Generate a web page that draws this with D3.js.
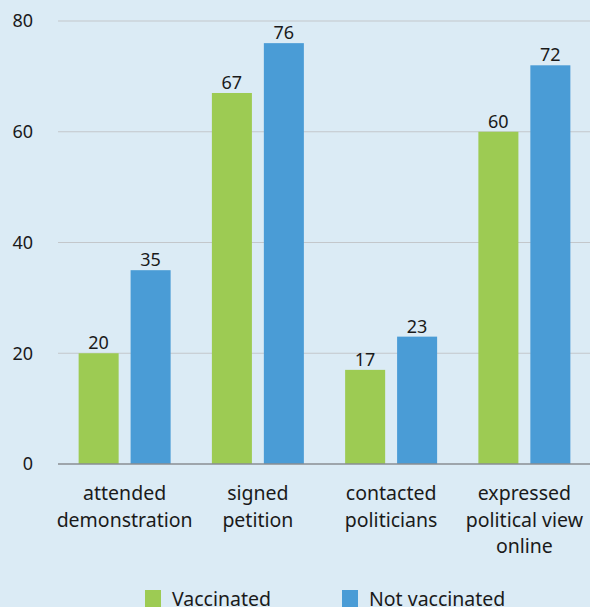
<!DOCTYPE html>
<html>
<head>
<meta charset="utf-8">
<script src="https://cdn.jsdelivr.net/npm/d3@7"></script>
<style>
  body { margin: 0; background: #dbebf5; }
  svg { display: block; font-family: "Noto Sans", sans-serif; }
</style>
</head>
<body>
<script>
const categories = [
  ['attended', 'demonstration'],
  ['signed', 'petition'],
  ['contacted', 'politicians'],
  ['expressed', 'political view', 'online'],
];
const series = ['Vaccinated', 'Not vaccinated'];
const vaccinated = [20, 67, 17, 60];
const notVaccinated = [35, 76, 23, 72];
const yTicks = [0, 20, 40, 60, 80];
const colors = ['#9dcb53', '#4a9cd6'];

const width = 590;
const height = 607;
const margin = { left: 58, right: 0, top: 21, bottom: 143 };
const numSize = 18;
const labelSize = 19.5;

const svg = d3
  .select('body')
  .append('svg')
  .attr('width', width)
  .attr('height', height);

const x0 = d3
  .scaleBand()
  .domain(d3.range(categories.length))
  .range([margin.left, width - margin.right + 1]);

const x1 = d3
  .scaleBand()
  .domain(series)
  .range([0, x0.bandwidth()])
  .paddingInner(0.23)
  .paddingOuter(0.397);

const y = d3
  .scaleLinear()
  .domain([0, 80])
  .range([height - margin.bottom, margin.top]);

// GRID
svg
  .append('g')
  .selectAll('line')
  .data(yTicks.filter((d) => d > 0))
  .join('line')
  .attr('x1', margin.left)
  .attr('x2', width)
  .attr('y1', (d) => y(d))
  .attr('y2', (d) => y(d))
  .attr('stroke', '#c3c7cb')
  .attr('stroke-width', 1);

// Y TICK LABELS
svg
  .append('g')
  .selectAll('text')
  .data(yTicks)
  .join('text')
  .attr('x', 33)
  .attr('y', (d) => y(d))
  .attr('dy', '0.35em')
  .attr('text-anchor', 'end')
  .attr('font-size', numSize)
  .attr('fill', '#1a1a1a')
  .text((d) => d);

// BARS
const rows = categories.map((c, i) => ({
  i,
  values: [vaccinated[i], notVaccinated[i]],
}));

const groups = svg
  .append('g')
  .selectAll('g')
  .data(rows)
  .join('g')
  .attr('transform', (d) => `translate(${x0(d.i)},0)`);

groups
  .selectAll('rect')
  .data((d) => d.values.map((v, k) => ({ v, k })))
  .join('rect')
  .attr('x', (d) => x1(series[d.k]))
  .attr('width', x1.bandwidth())
  .attr('y', (d) => y(d.v))
  .attr('height', (d) => y(0) - y(d.v))
  .attr('fill', (d) => colors[d.k]);

groups
  .selectAll('text.value')
  .data((d) => d.values.map((v, k) => ({ v, k })))
  .join('text')
  .attr('class', 'value')
  .attr('x', (d) => x1(series[d.k]) + x1.bandwidth() / 2)
  .attr('y', (d) => y(d.v) - 4)
  .attr('text-anchor', 'middle')
  .attr('font-size', numSize)
  .attr('fill', '#1a1a1a')
  .text((d) => d.v);

// BASELINE
svg
  .append('line')
  .attr('x1', margin.left)
  .attr('x2', width)
  .attr('y1', y(0))
  .attr('y2', y(0))
  .attr('stroke', '#8a8e92')
  .attr('stroke-width', 1.5);

// CATEGORY LABELS
const catText = svg
  .append('g')
  .selectAll('text')
  .data(categories)
  .join('text')
  .attr('x', (d, i) => x0(i) + x0.bandwidth() / 2)
  .attr('y', 500)
  .attr('text-anchor', 'middle')
  .attr('font-size', labelSize)
  .attr('fill', '#1a1a1a');

catText
  .selectAll('tspan')
  .data((d) => d)
  .join('tspan')
  .attr('x', function () {
    return d3.select(this.parentNode).attr('x');
  })
  .attr('dy', (d, i) => (i === 0 ? 0 : 26.5))
  .text((d) => d);

// LEGEND
const legendX = [145, 342];
const legend = svg
  .append('g')
  .selectAll('g')
  .data(series)
  .join('g')
  .attr('transform', (d, i) => `translate(${legendX[i]},590)`);

legend
  .append('rect')
  .attr('width', 16)
  .attr('height', 17)
  .attr('fill', (d, i) => colors[i]);

legend
  .append('text')
  .attr('x', 27)
  .attr('y', 15.5)
  .attr('font-size', labelSize)
  .attr('fill', '#1a1a1a')
  .text((d) => d);
</script>
</body>
</html>
